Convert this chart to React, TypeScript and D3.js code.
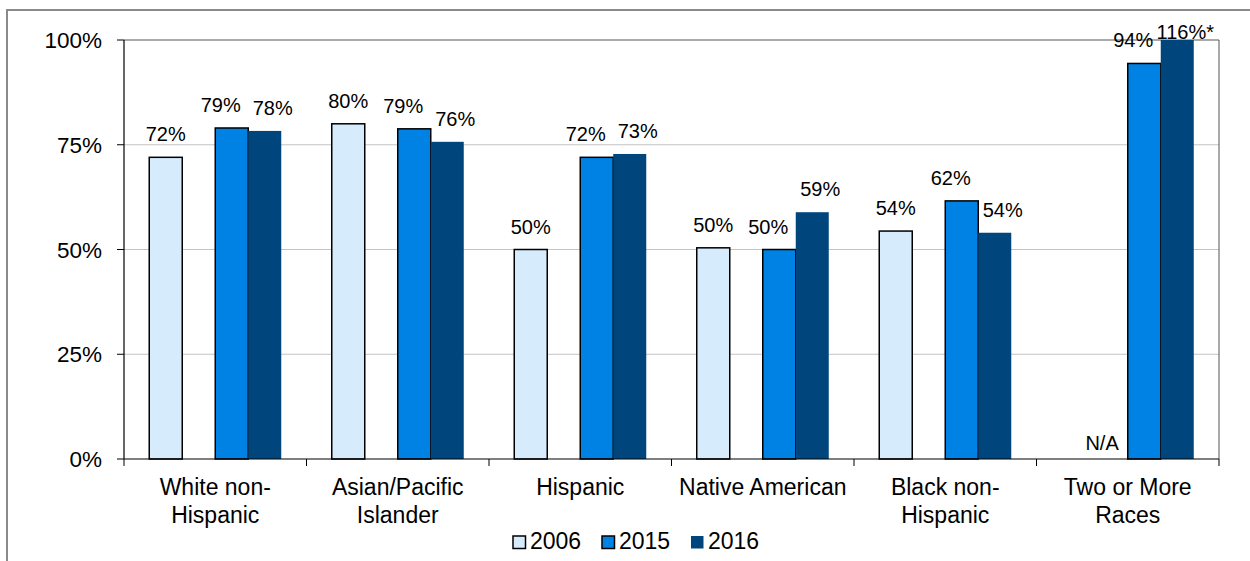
import React from "react";
import * as d3 from "d3";

const categories: string[][] = [
  ["White non-", "Hispanic"],
  ["Asian/Pacific", "Islander"],
  ["Hispanic"],
  ["Native American"],
  ["Black non-", "Hispanic"],
  ["Two or More", "Races"],
];
const seriesNames = ["2006", "2015", "2016"];
const values2006: (number | null)[] = [72, 80, 50, 50.4, 54.4, null];
const values2015: (number | null)[] = [79, 78.8, 72, 50, 61.6, 94.4];
const values2016: (number | null)[] = [78.3, 75.7, 72.8, 58.9, 54, 116];
const labels2006 = ["72%", "80%", "50%", "50%", "54%", "N/A"];
const labels2015 = ["79%", "79%", "72%", "50%", "62%", "94%"];
const labels2016 = ["78%", "76%", "73%", "59%", "54%", "116%*"];
const yTicks = [0, 25, 50, 75, 100];
const yTickLabels = ["0%", "25%", "50%", "75%", "100%"];

const W = 1250;
const H = 561;
const plot = { left: 124, right: 1219, top: 40, bottom: 459 };
const FONT = "'Liberation Sans', Arial, sans-serif";
const colors: Record<string, string> = { "2006": "#D6EBFC", "2015": "#0082E4", "2016": "#00467C" };
const strokes: Record<string, string> = { "2006": "#000", "2015": "#000", "2016": "none" };
const labelDx: Record<string, number> = { "2006": 0, "2015": -11, "2016": 8 };

export default function App() {
  const y = d3.scaleLinear().domain([0, 100]).range([plot.bottom, plot.top]);
  const x0 = d3
    .scaleBand<number>()
    .domain(categories.map((_, i) => i))
    .range([plot.left, plot.right])
    .padding(0);
  const x1 = d3
    .scaleBand<string>()
    .domain(["2006", "gap", "2015", "2016"])
    .range([0, x0.bandwidth()])
    .paddingInner(0)
    .paddingOuter(0.765);
  const bw = x1.bandwidth();

  const series = [
    { name: "2006", values: values2006, labels: labels2006 },
    { name: "2015", values: values2015, labels: labels2015 },
    { name: "2016", values: values2016, labels: labels2016 },
  ];

  const boundaries = categories.map((_, i) => x0(i)!).concat([plot.right]);

  return (
    <svg
      width={W}
      height={H}
      style={{ position: "absolute", left: 0, top: 0, background: "#fff" }}
      fontFamily={FONT}
    >
      <rect x={0} y={0} width={W} height={H} fill="#fff" />
      <rect x={7} y={10} width={1400} height={800} fill="none" stroke="#8a8a8a" strokeWidth={2} />

      {/* gridlines */}
      {yTicks.slice(1, -1).map((t) => (
        <line key={t} x1={plot.left} x2={plot.right} y1={y(t)} y2={y(t)} stroke="#c4c4c4" strokeWidth={1} />
      ))}
      {/* plot border top/right */}
      <line x1={plot.left} x2={plot.right} y1={y(100)} y2={y(100)} stroke="#555" strokeWidth={1} />
      <line x1={plot.right} x2={plot.right} y1={plot.top} y2={plot.bottom} stroke="#555" strokeWidth={1} />

      {/* bars */}
      {series.map((s) =>
        s.values.map((v, i) => {
          if (v == null) return null;
          const bx = x0(i)! + x1(s.name)!;
          const top = y(Math.min(v, 100));
          return (
            <rect
              key={s.name + i}
              x={bx}
              y={top}
              width={bw}
              height={plot.bottom - top}
              fill={colors[s.name]}
              stroke={strokes[s.name]}
              strokeWidth={1.5}
            />
          );
        })
      )}

      {/* data labels */}
      {series.map((s) =>
        s.values.map((v, i) => {
          if (v == null) {
            return (
              <text
                key={"l" + s.name + i}
                x={x0(i)! + x1("2015")! - 9}
                y={plot.bottom - 9}
                fontSize={20}
                textAnchor="end"
                fill="#000"
              >
                {s.labels[i]}
              </text>
            );
          }
          const cx = x0(i)! + x1(s.name)! + bw / 2 + labelDx[s.name];
          const ly = v > 100 ? y(100) - 1 : y(v) - 16;
          return (
            <text key={"l" + s.name + i} x={cx} y={ly} fontSize={20} textAnchor="middle" fill="#000">
              {s.labels[i]}
            </text>
          );
        })
      )}

      {/* axes */}
      <line x1={plot.left} x2={plot.left} y1={plot.top} y2={plot.bottom} stroke="#000" strokeWidth={1.2} />
      <line x1={plot.left} x2={plot.right} y1={plot.bottom} y2={plot.bottom} stroke="#000" strokeWidth={1.2} />
      {yTicks.map((t, i) => (
        <g key={"yt" + t}>
          <line x1={plot.left - 7} x2={plot.left} y1={y(t)} y2={y(t)} stroke="#000" strokeWidth={1} />
          <text x={102} y={y(t) + 8} fontSize={22.5} textAnchor="end" fill="#000">
            {yTickLabels[i]}
          </text>
        </g>
      ))}
      {boundaries.map((bx, i) => (
        <line key={"xt" + i} x1={bx} x2={bx} y1={plot.bottom} y2={plot.bottom + 7} stroke="#000" strokeWidth={1} />
      ))}
      {categories.map((lines, i) => (
        <text key={"c" + i} x={x0(i)! + x0.bandwidth() / 2} fontSize={23} textAnchor="middle" fill="#000">
          {lines.map((ln, j) => (
            <tspan key={j} x={x0(i)! + x0.bandwidth() / 2} y={495 + j * 28}>
              {ln}
            </tspan>
          ))}
        </text>
      ))}

      {/* legend */}
      {seriesNames.map((n, i) => {
        const lx = 513 + i * 89;
        return (
          <g key={"lg" + n}>
            <rect
              x={lx}
              y={536}
              width={12.5}
              height={12.5}
              fill={colors[n]}
              stroke={strokes[n]}
              strokeWidth={1.5}
            />
            <text x={lx + 17} y={548.5} fontSize={23} fill="#000">
              {n}
            </text>
          </g>
        );
      })}
    </svg>
  );
}
